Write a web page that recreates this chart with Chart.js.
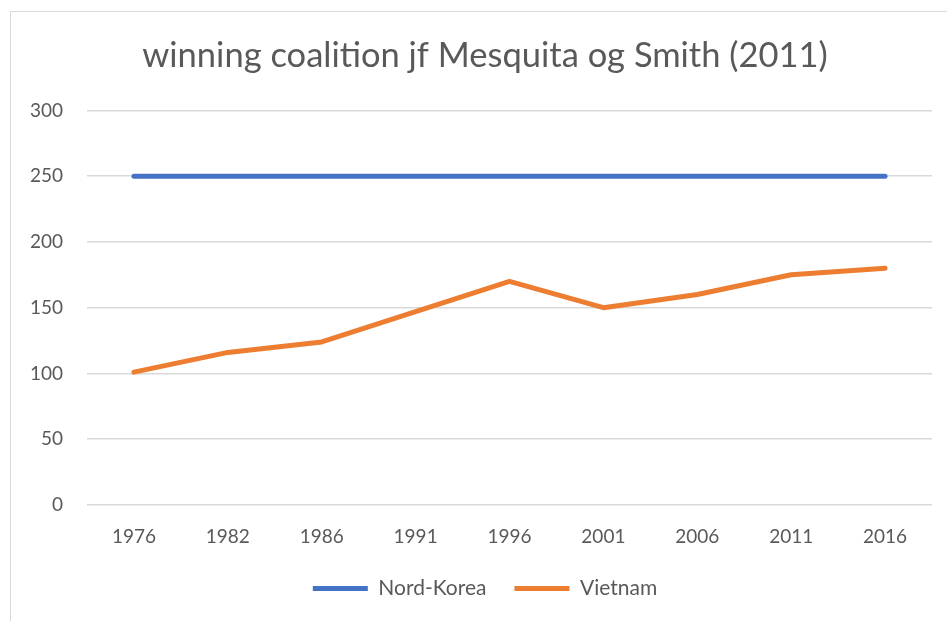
<!DOCTYPE html>
<html>
<head>
<meta charset="utf-8">
<script src="https://cdn.jsdelivr.net/npm/chart.js@4.4.0/dist/chart.umd.min.js"></script>
<style>
  html, body { margin: 0; padding: 0; background: #fff; overflow: hidden; }
  #wrap { position: relative; width: 947px; height: 621px; }
  #frame { position: absolute; left: 10px; top: 11px; width: 950px; height: 620px; border: 1px solid #d9d9d9; box-sizing: border-box; }
  canvas { position: absolute; left: 0; top: 0; }
</style>
</head>
<body>
<div id="wrap">
  <div id="frame"></div>
  <canvas id="chart" width="947" height="621"></canvas>
</div>
<script>
const years = ['1976', '1982', '1986', '1991', '1996', '2001', '2006', '2011', '2016'];
const nordKorea = [250, 250, 250, 250, 250, 250, 250, 250, 250];
const vietnam = [101, 116, 124, 147, 170, 150, 160, 175, 180];

const textColor = '#595959';
const fontFamily = 'Lato, "Open Sans", sans-serif';

new Chart(document.getElementById('chart'), {
  type: 'line',
  data: {
    labels: years,
    datasets: [
      {
        label: 'Nord-Korea',
        data: nordKorea,
        borderColor: '#4472C4',
        backgroundColor: '#4472C4',
        borderWidth: 5,
        borderCapStyle: 'round',
        pointRadius: 0,
        tension: 0
      },
      {
        label: 'Vietnam',
        data: vietnam,
        borderColor: '#ED7D31',
        backgroundColor: '#ED7D31',
        borderWidth: 5,
        borderCapStyle: 'round',
        borderJoinStyle: 'round',
        pointRadius: 0,
        tension: 0
      }
    ]
  },
  options: {
    responsive: false,
    animation: false,
    // left padding keeps title/legend centred like the original
    layout: { padding: { left: 38, right: 15, top: 0, bottom: 12 } },
    plugins: {
      title: {
        display: true,
        text: 'winning coalition jf Mesquita og Smith (2011)',
        color: textColor,
        font: { family: fontFamily, size: 34.5, weight: 'normal' },
        padding: { top: 35, bottom: 34 }
      },
      legend: {
        position: 'bottom',
        labels: {
          usePointStyle: true,
          pointStyle: 'line',
          pointStyleWidth: 55,
          color: textColor,
          font: { family: fontFamily, size: 21 },
          padding: 28
        }
      },
      tooltip: { enabled: false }
    },
    scales: {
      x: {
        offset: true,
        grid: { display: false, drawTicks: false },
        border: { display: false },
        ticks: { color: textColor, font: { family: fontFamily, size: 19 }, padding: 20 },
        afterFit: s => { s.height = 45; }
      },
      y: {
        min: 0,
        max: 300,
        grid: { color: '#d9d9d9', lineWidth: 1.5, drawTicks: false },
        border: { display: false },
        // mirrored so the labels are not clipped to the narrow scale box;
        // negative padding pulls them back left of the plot, right aligned
        ticks: {
          stepSize: 50, color: textColor, font: { family: fontFamily, size: 19 },
          mirror: true, crossAlign: 'far', padding: -57
        },
        afterFit: s => { s.width = 49; }
      }
    }
  }
});
</script>
</body>
</html>
